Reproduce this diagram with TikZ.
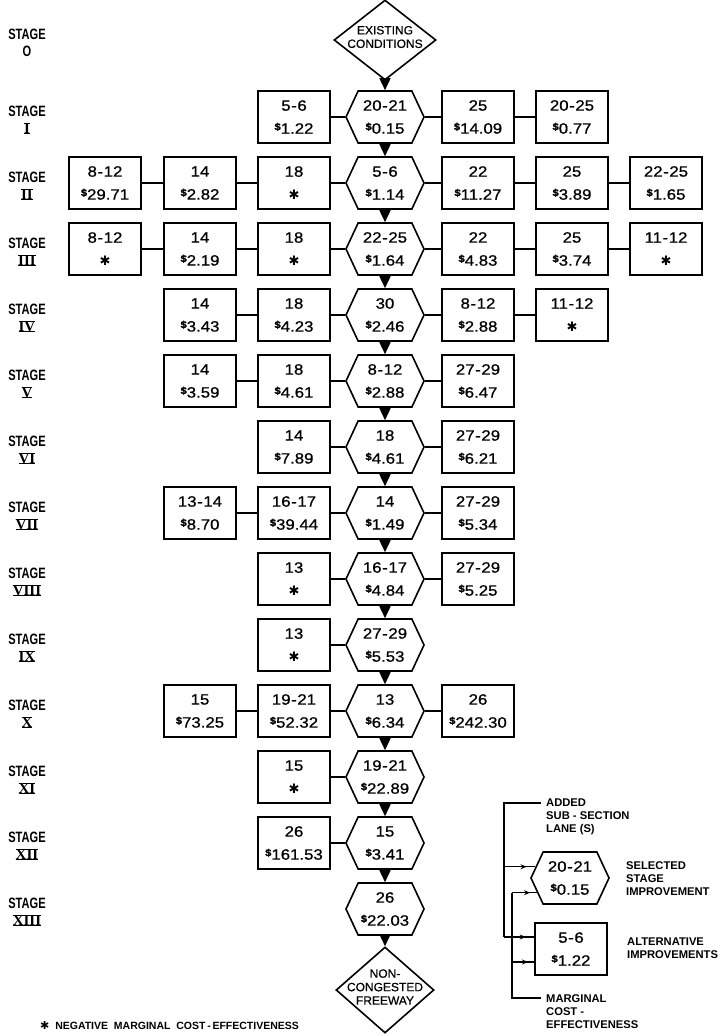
\documentclass[tikz,border=0pt]{standalone}
\usepackage{fontspec}
\setmainfont{Liberation Sans}
\newfontfamily\bxf[FakeStretch=1.12,FakeBold=0.8]{Liberation Sans}
\newfontfamily\lbf[FakeStretch=0.74]{Liberation Sans}
\newfontfamily\lgf{Liberation Sans}
\newfontfamily\dgf[FakeBold=0.6]{Liberation Sans}
\newfontfamily\rmnf{Liberation Serif}
\newfontfamily\djv{DejaVu Sans}
\usetikzlibrary{shapes.geometric,shapes.symbols,arrows.meta,decorations.markings}
\newcommand\hy{\kern0.6pt-\kern0.6pt}
\newcommand\dl{\raisebox{3.5pt}{\fontsize{10}{10}\selectfont\bfseries\$}}
\newcommand\st{\raisebox{0pt}[8pt][0pt]{{\djv\fontsize{13}{13}\selectfont ✱}}}
\newcommand\rn[1]{\setbox0\hbox{\rmnf\bfseries #1}\rlap{\rule[-0.6pt]{\wd0}{1.3pt}}\rlap{\raisebox{\ht0}{\rule[-0.7pt]{\wd0}{1.3pt}}}\box0}
\newcommand\two[2]{#1\\[6pt]#2}
\tikzset{
  x=1pt, y=-1pt,
  shp/.style={draw, line width=1.6pt, align=center, inner sep=0pt, font=\bxf\fontsize{15}{17}\selectfont},
  box/.style={shp, rectangle, minimum width=72pt, minimum height=52pt},
  hexa/.style={shp, signal, signal to=west and east, signal pointer angle=130, minimum width=78pt, minimum height=52pt},
  dia/.style={draw, line width=1.6pt, diamond, inner sep=0pt},
  diatxt/.style={align=center, inner sep=0pt, font=\dgf\fontsize{12}{13.5}\selectfont},
  link/.style={line width=1.6pt},
  flow/.style={line width=1.6pt, -{Triangle[length=12pt,width=11pt]}},
  stagelbl/.style={align=center, inner sep=0pt, font=\lbf\bfseries\fontsize{15}{16}\selectfont},
  legtxt/.style={align=left, inner sep=0pt, anchor=north west, font=\lgf\bfseries\fontsize{11.2}{13}\selectfont},
  legarrow/.style={line width=1.4pt, postaction={decorate}, decoration={markings, mark=at position 0.72 with {\arrow{Stealth[length=6pt,width=5pt]}}}}
}
\begin{document}
\begin{tikzpicture}
\useasboundingbox (0,0) rectangle (727,1036);
% stage labels
\node[stagelbl] (st0) at (27,43) {STAGE\\[1pt]O};
\node[stagelbl] (st1) at (27,120) {STAGE\\[1pt]\rn{I}};
\node[stagelbl] (st2) at (27,186) {STAGE\\[1pt]\rn{II}};
\node[stagelbl] (st3) at (27,252) {STAGE\\[1pt]\rn{III}};
\node[stagelbl] (st4) at (27,318) {STAGE\\[1pt]\rn{IV}};
\node[stagelbl] (st5) at (27,384) {STAGE\\[1pt]\rn{V}};
\node[stagelbl] (st6) at (27,450) {STAGE\\[1pt]\rn{VI}};
\node[stagelbl] (st7) at (27,516) {STAGE\\[1pt]\rn{VII}};
\node[stagelbl] (st8) at (27,582) {STAGE\\[1pt]\rn{VIII}};
\node[stagelbl] (st9) at (27,648) {STAGE\\[1pt]\rn{IX}};
\node[stagelbl] (st10) at (27,714) {STAGE\\[1pt]\rn{X}};
\node[stagelbl] (st11) at (27,780) {STAGE\\[1pt]\rn{XI}};
\node[stagelbl] (st12) at (27,846) {STAGE\\[1pt]\rn{XII}};
\node[stagelbl] (st13) at (27,912) {STAGE\\[1pt]\rn{XIII}};
% diamonds
\node[dia, minimum width=102pt, minimum height=80pt] (top) at (385,40) {};
\node[diatxt] (toptxt) at (385,37) {EXISTING\\CONDITIONS};
\node[dia, minimum width=98pt, minimum height=86pt] (bot) at (385,990) {};
\node[diatxt] (bottxt) at (385,987) {NON-\\CONGESTED\\FREEWAY};
% row 1
\node[box] (n1l1) at (294,117) {\two{5\hy6}{\dl1.22}};
\node[hexa] (n1c) at (385,117) {\two{20\hy21}{\dl0.15}};
\node[box] (n1r1) at (478,117) {\two{25}{\dl14.09}};
\node[box] (n1r2) at (572,117) {\two{20\hy25}{\dl0.77}};
% row 2
\node[box] (n2l3) at (105,183) {\two{8\hy12}{\dl29.71}};
\node[box] (n2l2) at (200,183) {\two{14}{\dl2.82}};
\node[box] (n2l1) at (294,183) {\two{18}{\st}};
\node[hexa] (n2c) at (385,183) {\two{5\hy6}{\dl1.14}};
\node[box] (n2r1) at (478,183) {\two{22}{\dl11.27}};
\node[box] (n2r2) at (572,183) {\two{25}{\dl3.89}};
\node[box] (n2r3) at (666,183) {\two{22\hy25}{\dl1.65}};
% row 3
\node[box] (n3l3) at (105,249) {\two{8\hy12}{\st}};
\node[box] (n3l2) at (200,249) {\two{14}{\dl2.19}};
\node[box] (n3l1) at (294,249) {\two{18}{\st}};
\node[hexa] (n3c) at (385,249) {\two{22\hy25}{\dl1.64}};
\node[box] (n3r1) at (478,249) {\two{22}{\dl4.83}};
\node[box] (n3r2) at (572,249) {\two{25}{\dl3.74}};
\node[box] (n3r3) at (666,249) {\two{11\hy12}{\st}};
% row 4
\node[box] (n4l2) at (200,315) {\two{14}{\dl3.43}};
\node[box] (n4l1) at (294,315) {\two{18}{\dl4.23}};
\node[hexa] (n4c) at (385,315) {\two{30}{\dl2.46}};
\node[box] (n4r1) at (478,315) {\two{8\hy12}{\dl2.88}};
\node[box] (n4r2) at (572,315) {\two{11\hy12}{\st}};
% row 5
\node[box] (n5l2) at (200,381) {\two{14}{\dl3.59}};
\node[box] (n5l1) at (294,381) {\two{18}{\dl4.61}};
\node[hexa] (n5c) at (385,381) {\two{8\hy12}{\dl2.88}};
\node[box] (n5r1) at (478,381) {\two{27\hy29}{\dl6.47}};
% row 6
\node[box] (n6l1) at (294,447) {\two{14}{\dl7.89}};
\node[hexa] (n6c) at (385,447) {\two{18}{\dl4.61}};
\node[box] (n6r1) at (478,447) {\two{27\hy29}{\dl6.21}};
% row 7
\node[box] (n7l2) at (200,513) {\two{13\hy14}{\dl8.70}};
\node[box] (n7l1) at (294,513) {\two{16\hy17}{\dl39.44}};
\node[hexa] (n7c) at (385,513) {\two{14}{\dl1.49}};
\node[box] (n7r1) at (478,513) {\two{27\hy29}{\dl5.34}};
% row 8
\node[box] (n8l1) at (294,579) {\two{13}{\st}};
\node[hexa] (n8c) at (385,579) {\two{16\hy17}{\dl4.84}};
\node[box] (n8r1) at (478,579) {\two{27\hy29}{\dl5.25}};
% row 9
\node[box] (n9l1) at (294,645) {\two{13}{\st}};
\node[hexa] (n9c) at (385,645) {\two{27\hy29}{\dl5.53}};
% row 10
\node[box] (n10l2) at (200,711) {\two{15}{\dl73.25}};
\node[box] (n10l1) at (294,711) {\two{19\hy21}{\dl52.32}};
\node[hexa] (n10c) at (385,711) {\two{13}{\dl6.34}};
\node[box] (n10r1) at (478,711) {\two{26}{\dl242.30}};
% row 11
\node[box] (n11l1) at (294,777) {\two{15}{\st}};
\node[hexa] (n11c) at (385,777) {\two{19\hy21}{\dl22.89}};
% row 12
\node[box] (n12l1) at (294,843) {\two{26}{\dl161.53}};
\node[hexa] (n12c) at (385,843) {\two{15}{\dl3.41}};
% row 13
\node[hexa] (n13c) at (385,909) {\two{26}{\dl22.03}};
% horizontal links
\draw[link] (n1l1.east) -- (n1c.west) (n1c.east) -- (n1r1.west) (n1r1.east) -- (n1r2.west);
\draw[link] (n2l3.east) -- (n2l2.west) (n2l2.east) -- (n2l1.west) (n2l1.east) -- (n2c.west) (n2c.east) -- (n2r1.west) (n2r1.east) -- (n2r2.west) (n2r2.east) -- (n2r3.west);
\draw[link] (n3l3.east) -- (n3l2.west) (n3l2.east) -- (n3l1.west) (n3l1.east) -- (n3c.west) (n3c.east) -- (n3r1.west) (n3r1.east) -- (n3r2.west) (n3r2.east) -- (n3r3.west);
\draw[link] (n4l2.east) -- (n4l1.west) (n4l1.east) -- (n4c.west) (n4c.east) -- (n4r1.west) (n4r1.east) -- (n4r2.west);
\draw[link] (n5l2.east) -- (n5l1.west) (n5l1.east) -- (n5c.west) (n5c.east) -- (n5r1.west);
\draw[link] (n6l1.east) -- (n6c.west) (n6c.east) -- (n6r1.west);
\draw[link] (n7l2.east) -- (n7l1.west) (n7l1.east) -- (n7c.west) (n7c.east) -- (n7r1.west);
\draw[link] (n8l1.east) -- (n8c.west) (n8c.east) -- (n8r1.west);
\draw[link] (n9l1.east) -- (n9c.west);
\draw[link] (n10l2.east) -- (n10l1.west) (n10l1.east) -- (n10c.west) (n10c.east) -- (n10r1.west);
\draw[link] (n11l1.east) -- (n11c.west);
\draw[link] (n12l1.east) -- (n12c.west);
% vertical flow
\draw[flow] (top.south) -- (n1c.north);
\draw[flow] (n1c.south) -- (n2c.north);
\draw[flow] (n2c.south) -- (n3c.north);
\draw[flow] (n3c.south) -- (n4c.north);
\draw[flow] (n4c.south) -- (n5c.north);
\draw[flow] (n5c.south) -- (n6c.north);
\draw[flow] (n6c.south) -- (n7c.north);
\draw[flow] (n7c.south) -- (n8c.north);
\draw[flow] (n8c.south) -- (n9c.north);
\draw[flow] (n9c.south) -- (n10c.north);
\draw[flow] (n10c.south) -- (n11c.north);
\draw[flow] (n11c.south) -- (n12c.north);
\draw[flow] (n12c.south) -- (n13c.north);
\draw[flow] (n13c.south) -- (bot.north);
% legend
\node[hexa] (lh) at (570,878) {\two{20\hy21}{\dl0.15}};
\node[box] (lb) at (571,949) {\two{5\hy6}{\dl1.22}};
\coordinate (ov) at (504,803);
\coordinate (ovt) at (541,803);
\coordinate (iv) at (512,998);
\coordinate (ivt) at (541,998);
\path (lh.162) coordinate (hu) (lh.204) coordinate (hl);
\path ([yshift=12pt]lb.west) coordinate (bu) ([yshift=-13pt]lb.west) coordinate (bl);
\draw[link] (ovt) -- (ov) -- (ov |- bu);
\draw[legarrow] (ov |- hu) -- (hu);
\draw[legarrow] (ov |- bu) -- (bu);
\draw[link] (iv |- hl) -- (iv) -- (ivt);
\draw[legarrow] (iv |- hl) -- (hl);
\draw[legarrow] (iv |- bl) -- (bl);
\node[legtxt] (tadd) at (546,799) {ADDED\\SUB - SECTION\\LANE (S)};
\node[legtxt] (tsel) at (626,861) {SELECTED\\STAGE\\IMPROVEMENT};
\node[legtxt] (talt) at (627,938) {ALTERNATIVE\\IMPROVEMENTS};
\node[legtxt] (tmar) at (546,994) {MARGINAL\\COST -\\EFFECTIVENESS};
\node[anchor=west, inner sep=0pt, font=\lgf\bfseries\fontsize{10.5}{12}\selectfont] (foot) at (40,1026) {{\djv\fontsize{11}{11}\selectfont ✱}\ \ NEGATIVE\ \ MARGINAL\ \ COST\,-\,EFFECTIVENESS};
\end{tikzpicture}
\end{document}
